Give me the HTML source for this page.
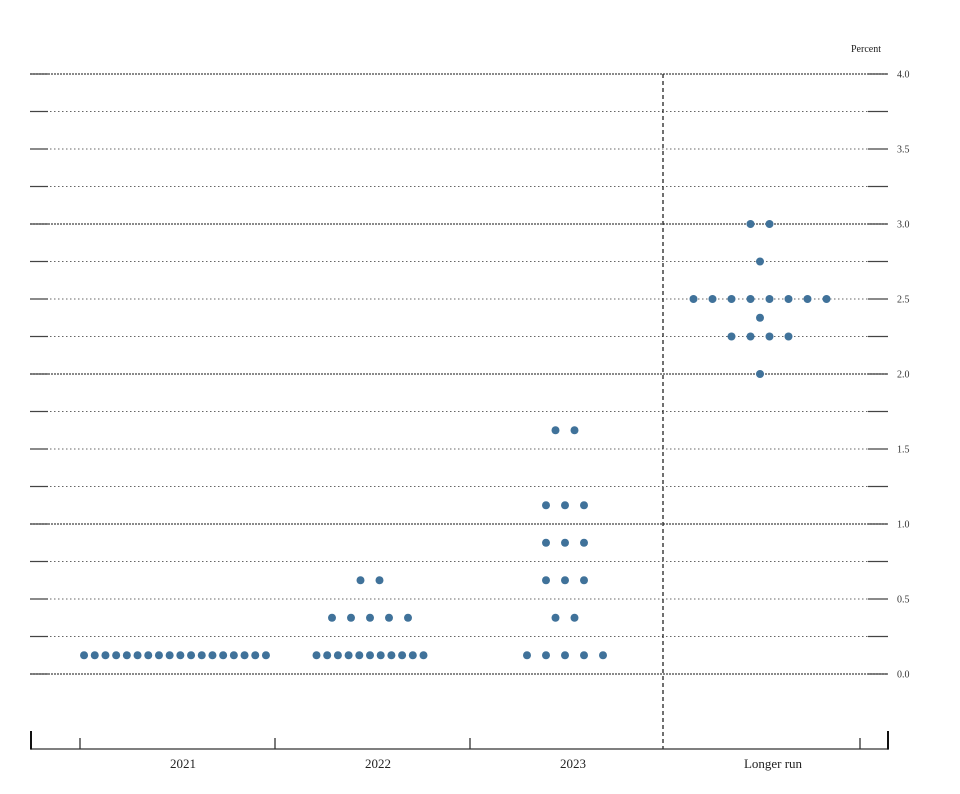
<!DOCTYPE html>
<html><head><meta charset="utf-8"><style>
html,body{margin:0;padding:0;background:#fff;}
svg{display:block;font-family:"Liberation Serif",serif;}
</style></head><body>
<svg id="chart" width="960" height="794" viewBox="0 0 960 794" xmlns="http://www.w3.org/2000/svg">
<text x="866" y="52" font-size="10" text-anchor="middle" fill="#222">Percent</text>
<g id="grid"></g>
<g id="yticks"></g>
<line x1="663" y1="74" x2="663" y2="749" stroke="#111" stroke-width="1.2" stroke-dasharray="4,3"/>
<g id="xaxis"></g>
<g id="dots"></g>
</svg>
<script>
const categories = ["2021","2022","2023","Longer run"];
const rates2021 = [0.125];
const counts2021 = [18];
const rates2022 = [0.125,0.375,0.625];
const counts2022 = [11,5,2];
const rates2023 = [0.125,0.375,0.625,0.875,1.125,1.625];
const counts2023 = [5,2,3,3,3,2];
const ratesLR = [2.0,2.25,2.375,2.5,2.75,3.0];
const countsLR = [1,4,1,8,1,2];
const yTickLabels = ["0.0","0.5","1.0","1.5","2.0","2.5","3.0","3.5","4.0"];
const yTickValues = [0,0.5,1,1.5,2,2.5,3,3.5,4];

const NS="http://www.w3.org/2000/svg";
const yScale = v => 674 - v*150;
const xCenter = i => 175 + i*195;
function mk(tag, attrs, parent){const e=document.createElementNS(NS,tag);for(const k in attrs)e.setAttribute(k,attrs[k]);parent.appendChild(e);return e;}
const grid=document.getElementById('grid');
for(let k=0;k<=16;k++){
  const v=k*0.25, y=yScale(v), major=(k%4===0);
  const l=mk('line',{x1:30,x2:888,y1:y,y2:y,stroke:major?'#444':'#666','stroke-width':major?1.3:1,'stroke-dasharray':major?'2,1':'1.5,2.5'},grid);
  
  
  const a=mk('line',{x1:30,x2:48,y1:y,y2:y,stroke:'#444','stroke-width':1.2},grid);
  
  
  const b=mk('line',{x1:868,x2:888,y1:y,y2:y,stroke:'#444','stroke-width':1.2},grid);
  
  
}
const yt=document.getElementById('yticks');
yTickValues.forEach((v,i)=>{
  const t=mk('text',{x:897,y:yScale(v)+3.5,'font-size':10,fill:'#333'},yt);
  t.textContent=yTickLabels[i];
  
  
});
const xa=document.getElementById('xaxis');
let ax=mk('line',{x1:31,x2:888,y1:749,y2:749,stroke:'#333','stroke-width':1.3},xa);


[31,888].forEach(x=>{const t=mk('line',{x1:x,x2:x,y1:731,y2:749.6,stroke:'#111','stroke-width':2},xa);

});
[0,1,2,4].forEach(i=>{const x=xCenter(i)-95;const t=mk('line',{x1:x,x2:x,y1:738,y2:749,stroke:'#333','stroke-width':1.3},xa);

});
categories.forEach((c,i)=>{
  const t=mk('text',{x:xCenter(i)+(i===3?13:8),y:768,'font-size':13,'text-anchor':'middle',fill:'#222'},xa);
  t.textContent=c;
  
  
});
const dg=document.getElementById('dots');
const groups=[[rates2021,counts2021],[rates2022,counts2022],[rates2023,counts2023],[ratesLR,countsLR]];
groups.forEach((g,i)=>{
  const [rates,counts]=g;
  rates.forEach((r,j)=>{
    const n=counts[j], sp=n>8?10.7:19, cx=xCenter(i), y=yScale(r);
    for(let d=0;d<n;d++){
      const c=mk('circle',{cx:cx+(d-(n-1)/2)*sp,cy:y,r:4,fill:'#40729a'},dg);
      
      
    }
  });
});
</script>
</body></html>
